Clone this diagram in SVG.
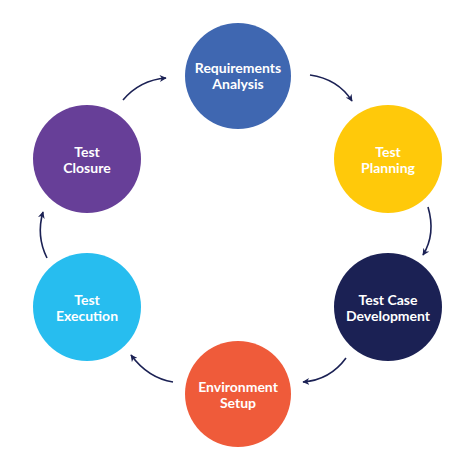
<svg xmlns="http://www.w3.org/2000/svg" width="474" height="467" viewBox="0 0 474 467">
<style>
.lbl{font-family:Lato,"Open Sans","Liberation Sans",sans-serif;font-weight:700;font-size:14px;fill:#fff;text-anchor:middle}
.arr{fill:none;stroke:#1b2154;stroke-width:1.6;marker-end:url(#ah)}
</style>
<defs>
<marker id="ah" viewBox="0 0 10 10" refX="9" refY="5" markerWidth="7" markerHeight="7" markerUnits="userSpaceOnUse" orient="auto">
<path d="M0,0 L10,5 L0,10 L3,5 Z" fill="#1b2154"/>
</marker>
</defs>
<rect width="474" height="467" fill="#fff"/>
<g id="connectors">
<path class="arr" d="M123,100 Q140,80 166,78"/>
<path class="arr" d="M310,75 Q338,79 352,101"/>
<path class="arr" d="M428,207 Q436,234 423,255"/>
<path class="arr" d="M346,358 Q330,380 303,382"/>
<path class="arr" d="M173,382 Q148,378 131,355"/>
<path class="arr" d="M47,258 Q36,236 43,212"/>
</g>
<g id="requirements-analysis">
<circle cx="238" cy="76" r="53" fill="#3f67b1"/>
<text class="lbl" x="238" y="73">Requirements</text>
<text class="lbl" x="238" y="89">Analysis</text>
</g>
<g id="test-planning">
<circle cx="388" cy="159" r="54" fill="#ffc90a"/>
<text class="lbl" x="388" y="157">Test</text>
<text class="lbl" x="388" y="173">Planning</text>
</g>
<g id="test-case-development">
<circle cx="388" cy="307" r="54" fill="#1b2154"/>
<text class="lbl" x="388" y="305">Test Case</text>
<text class="lbl" x="388" y="321">Development</text>
</g>
<g id="environment-setup">
<circle cx="238" cy="394" r="53" fill="#ef5b3a"/>
<text class="lbl" x="238" y="392">Environment</text>
<text class="lbl" x="238" y="408">Setup</text>
</g>
<g id="test-execution">
<circle cx="87" cy="307" r="54" fill="#27bdef"/>
<text class="lbl" x="87" y="305">Test</text>
<text class="lbl" x="87" y="321">Execution</text>
</g>
<g id="test-closure">
<circle cx="87" cy="159" r="54" fill="#673f98"/>
<text class="lbl" x="87" y="157">Test</text>
<text class="lbl" x="87" y="173">Closure</text>
</g>
</svg>
